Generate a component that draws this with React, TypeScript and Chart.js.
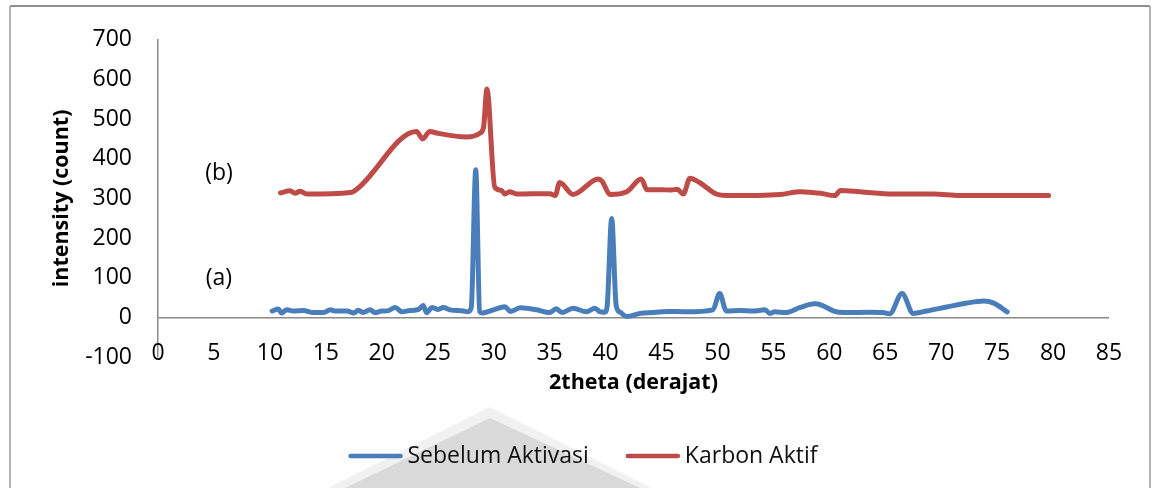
import React, { useEffect, useRef } from "react";
import { Chart, registerables } from "chart.js";

Chart.register(...registerables);

// ---- Data ----
const sebelumX = [
  10.2, 10.75, 11.05, 11.5, 12.1, 13.0, 13.9, 14.8, 15.4, 15.8, 16.9, 17.5, 17.9, 18.35, 18.95, 19.4,
  20.0, 20.6, 21.2, 21.8, 22.5, 23.3, 23.7, 24.0, 24.5, 25.05, 25.5, 26.1, 27.3, 27.7, 28.0, 28.4,
  28.75, 29.0, 29.97, 31.0, 31.5, 32.4, 33.85, 35.0, 35.6, 36.1, 37.1, 38.3, 39.05, 39.5, 39.95, 40.15,
  40.55, 40.95, 41.3, 41.9, 43.1, 44.3, 45.5, 47.3, 49.6, 50.2, 50.8, 52.0, 53.2, 54.25, 54.7, 55.1,
  56.1, 57.4, 58.7, 59.3, 60.4, 61.25, 63.6, 64.8, 65.4, 66.5, 67.5, 68.7, 70.5, 72.3, 73.8, 74.7, 75.9,
];
const sebelumY = [
  16, 21, 11, 19, 16, 17, 12, 12, 19, 16, 16, 11, 18, 12, 19, 12,
  16, 17, 25, 14, 17, 20, 30, 12, 25, 20, 25, 19, 16, 14, 25, 372,
  15, 11, 19, 27, 15, 24, 19, 12, 22, 12, 23, 14, 23, 14, 13, 30,
  249, 30, 13, 2, 10, 12, 15, 14, 19, 60, 16, 17, 16, 19, 10, 14,
  12, 25, 34, 31, 16, 12, 13, 12, 9, 60, 10, 16, 26, 36, 41, 36, 14,
];
const karbonX = [
  10.95, 11.8, 12.25, 12.7, 13.3, 17.2, 17.8, 23.1, 23.65, 24.3, 24.9, 27.6, 28.8, 29.1, 29.4, 30.1,
  30.7, 31.0, 31.4, 32.05, 35.0, 35.5, 35.9, 37.1, 39.35, 39.7, 40.4, 41.9, 43.2, 43.7, 45.0, 45.9,
  46.4, 46.95, 47.55, 48.4, 49.9, 50.8, 55.6, 57.4, 59.2, 60.5, 61.0, 62.75, 65.7, 69.3, 71.7, 79.6,
];
const karbonY = [
  314, 319, 313, 318, 311, 315, 324, 469, 450, 469, 465, 455, 465, 480, 576, 328,
  320, 311, 317, 311, 312, 307, 340, 310, 349, 343, 310, 317, 349, 322, 322, 321,
  323, 311, 351, 340, 311, 307, 310, 317, 313, 307, 320, 317, 311, 311, 307, 307,
];
const xTickValues = [0, 5, 10, 15, 20, 25, 30, 35, 40, 45, 50, 55, 60, 65, 70, 75, 80, 85];
const yTickValues = [-100, 0, 100, 200, 300, 400, 500, 600, 700];
const seriesNames = ["Sebelum Aktivasi", "Karbon Aktif"];
const seriesColors = ["#4A7EBB", "#BE4B48"];
const xAxisTitle = "2theta (derajat)";
const yAxisTitle = "intensity (count)";
const peakLabels = ["(b)", "(a)"];
const peakLabelX = [5.45, 5.45];
const peakLabelY = [362, 97];

const W = 1152;
const H = 488;
const FONT = '"Open Sans", "Noto Sans", sans-serif';

const decorations = {
  id: "decorations",
  beforeDraw(chart: any) {
    const ctx = chart.ctx as CanvasRenderingContext2D;
    ctx.save();
    ctx.fillStyle = "#ffffff";
    ctx.fillRect(0, 0, W, H);
    // faint watermark behind the legend
    ctx.fillStyle = "#f1f1f1";
    ctx.beginPath();
    ctx.moveTo(490, 407);
    ctx.lineTo(652, 488);
    ctx.lineTo(328, 488);
    ctx.closePath();
    ctx.fill();
    ctx.fillStyle = "#dadada";
    ctx.beginPath();
    ctx.moveTo(490, 418);
    ctx.lineTo(640, 488);
    ctx.lineTo(345, 488);
    ctx.closePath();
    ctx.fill();
    // outer chart border
    ctx.lineWidth = 2;
    ctx.strokeStyle = "#8e8e8e";
    ctx.beginPath();
    ctx.moveTo(10, 6);
    ctx.lineTo(1150, 6);
    ctx.stroke();
    ctx.strokeStyle = "#b4b4b4";
    ctx.beginPath();
    ctx.moveTo(10, 6);
    ctx.lineTo(10, H);
    ctx.moveTo(1150, 6);
    ctx.lineTo(1150, H);
    ctx.stroke();
    ctx.restore();
  },
  afterDraw(chart: any) {
    const ctx = chart.ctx as CanvasRenderingContext2D;
    const area = chart.chartArea;
    const xs = chart.scales.x;
    const ys = chart.scales.y;
    ctx.save();
    ctx.fillStyle = "#000";
    ctx.textAlign = "center";
    ctx.textBaseline = "middle";
    // x tick labels (Excel places them at the low end, level with -100)
    ctx.font = `23px ${FONT}`;
    xTickValues.forEach((v) => {
      ctx.fillText(String(v), xs.getPixelForValue(v), area.bottom - 4);
    });
    // axis titles
    ctx.font = `bold 21.5px ${FONT}`;
    ctx.fillText(xAxisTitle, (area.left + area.right) / 2, 383);
    ctx.save();
    ctx.translate(62, (area.top + area.bottom) / 2);
    ctx.rotate(-Math.PI / 2);
    ctx.fillText(yAxisTitle, 0, 0);
    ctx.restore();
    // peak labels
    ctx.font = `23px ${FONT}`;
    for (let i = 0; i < peakLabels.length; i++) {
      ctx.fillText(peakLabels[i], xs.getPixelForValue(peakLabelX[i]), ys.getPixelForValue(peakLabelY[i]));
    }
    // legend
    ctx.font = `23px ${FONT}`;
    ctx.textAlign = "left";
    const lineW = 54;
    const gapText = 5;
    const gapItem = 37;
    const widths = seriesNames.map((n) => ctx.measureText(n).width);
    const total = widths.reduce((a, b) => a + b, 0) + seriesNames.length * (lineW + gapText) + gapItem;
    let x = 583 - total / 2;
    const ly = 456;
    ctx.lineCap = "round";
    ctx.lineWidth = 4.5;
    seriesNames.forEach((n, i) => {
      ctx.strokeStyle = seriesColors[i];
      ctx.beginPath();
      ctx.moveTo(x + 2, ly);
      ctx.lineTo(x + lineW - 2, ly);
      ctx.stroke();
      x += lineW + gapText;
      ctx.fillStyle = "#111";
      ctx.fillText(n, x, ly);
      x += widths[i] + gapItem;
    });
    ctx.restore();
  },
};

export default function App() {
  const canvasRef = useRef<HTMLCanvasElement | null>(null);

  useEffect(() => {
    if (!canvasRef.current) return;
    const tickFont = { family: FONT, size: 23 };
    const chart = new Chart(canvasRef.current, {
      type: "scatter",
      data: {
        datasets: [
          {
            label: seriesNames[0],
            data: sebelumX.map((x, i) => ({ x, y: sebelumY[i] })),
            showLine: true,
            borderColor: seriesColors[0],
            backgroundColor: seriesColors[0],
            borderWidth: 5,
            pointRadius: 0,
            cubicInterpolationMode: "monotone",
            borderCapStyle: "round",
            borderJoinStyle: "round",
          },
          {
            label: seriesNames[1],
            data: karbonX.map((x, i) => ({ x, y: karbonY[i] })),
            showLine: true,
            borderColor: seriesColors[1],
            backgroundColor: seriesColors[1],
            borderWidth: 5,
            pointRadius: 0,
            cubicInterpolationMode: "monotone",
            borderCapStyle: "round",
            borderJoinStyle: "round",
          },
        ],
      } as any,
      options: {
        animation: false,
        responsive: false,
        devicePixelRatio: 1,
        layout: { padding: { left: 0, right: 43, top: 37, bottom: 0 } },
        plugins: { legend: { display: false }, tooltip: { enabled: false } },
        scales: {
          x: {
            type: "linear",
            min: 0,
            max: 85,
            afterBuildTicks: (s: any) => {
              s.ticks = xTickValues.map((v) => ({ value: v }));
            },
            afterFit: (s: any) => {
              s.height = 131;
            },
            grid: { display: false, drawTicks: false },
            border: { display: false },
            ticks: { display: false, font: tickFont },
          },
          y: {
            type: "linear",
            min: -100,
            max: 700,
            afterBuildTicks: (s: any) => {
              s.ticks = yTickValues.map((v) => ({ value: v }));
            },
            afterFit: (s: any) => {
              s.width = 158;
            },
            grid: {
              drawTicks: false,
              lineWidth: 1.5,
              color: (c: any) => (c.tick && c.tick.value === 0 ? "#8a8a8a" : "rgba(0,0,0,0)"),
            },
            border: { display: true, color: "#8a8a8a", width: 1.5 },
            ticks: { font: tickFont, color: "#000", padding: 26 },
          },
        },
      } as any,
      plugins: [decorations],
    });
    const fonts = (document as any).fonts;
    if (fonts && fonts.load) {
      Promise.all([fonts.load(`23px "Open Sans"`), fonts.load(`bold 21.5px "Open Sans"`)])
        .then(() => chart.update())
        .catch(() => {});
    }
    return () => chart.destroy();
  }, []);

  return (
    <div style={{ position: "fixed", left: 0, top: 0, width: W, height: H, background: "#fff" }}>
      <canvas ref={canvasRef} width={W} height={H} style={{ display: "block", width: W, height: H }} />
    </div>
  );
}
